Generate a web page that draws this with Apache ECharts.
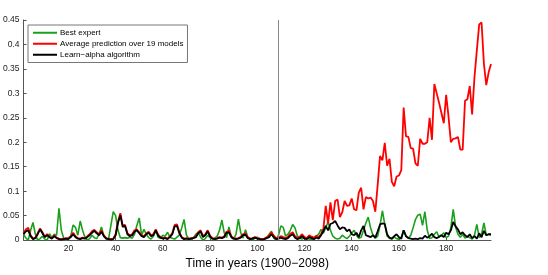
<!DOCTYPE html>
<html><head><meta charset="utf-8">
<script src="https://cdn.jsdelivr.net/npm/echarts@6/dist/echarts.min.js"></script>
<style>html,body{margin:0;padding:0;background:#fff}#c{width:548px;height:275px}</style>
</head><body><div id="c"></div>
<script>
const years = [];
for (let i = 1; i <= 199; i++) years.push(i);
const xTicks = [20, 40, 60, 80, 100, 120, 140, 160, 180];
const yMax = 0.45, yStep = 0.05;
const splitYear = 109;
const legendNames = ['Best expert', 'Average prediction over 19 models', 'Learn\u2212alpha algorithm'];

const bestExpert = [
0.012,0.004,0.0,0.02,0.036,0.012,0.0,0.003,0.008,0.002,
0.0,0.013,0.005,0.012,0.01,0.065,0.02,0.004,0.0,0.005,
0.008,0.031,0.026,0.01,0.039,0.02,0.006,0.0,0.003,0.01,
0.005,0.003,0.012,0.027,0.008,0.003,0.002,0.03,0.058,0.05,
0.02,0.005,0.004,0.005,0.004,0.006,0.004,0.012,0.03,0.045,
0.01,0.022,0.012,0.005,0.002,0.008,0.02,0.006,0.004,0.01,
0.008,0.016,0.006,0.004,0.002,0.006,0.01,0.025,0.042,0.01,
0.003,0.0,0.005,0.012,0.016,0.006,0.0,0.003,0.01,0.005,
0.002,0.004,0.008,0.02,0.041,0.015,0.005,0.027,0.006,0.002,
0.012,0.043,0.015,0.004,0.021,0.006,0.002,0.0,0.004,0.006,
0.003,0.0,0.002,0.005,0.012,0.018,0.004,0.0,0.01,0.029,
0.026,0.008,0.012,0.02,0.032,0.025,0.008,0.004,0.002,0.006,
0.004,0.002,0.001,0.004,0.008,0.012,0.022,0.014,0.026,0.037,
0.02,0.008,0.004,0.002,0.004,0.01,0.006,0.003,0.008,0.014,
0.02,0.01,0.004,0.006,0.02,0.035,0.047,0.025,0.01,0.004,
0.008,0.03,0.06,0.032,0.008,0.004,0.002,0.006,0.003,0.002,
0.006,0.02,0.008,0.004,0.01,0.025,0.042,0.051,0.053,0.03,
0.058,0.02,0.003,0.005,0.012,0.017,0.006,0.01,0.015,0.005,
0.008,0.025,0.063,0.027,0.012,0.006,0.012,0.004,0.008,0.005,
0.002,0.01,0.032,0.005,0.012,0.035,0.01,0.012,0.01
];

const averagePrediction = [
0.014,0.022,0.025,0.01,0.003,0.005,0.014,0.024,0.016,0.007,
0.012,0.007,0.004,0.01,0.005,0.003,0.002,0.003,0.004,0.003,
0.008,0.015,0.008,0.004,0.003,0.005,0.004,0.008,0.012,0.018,
0.021,0.016,0.012,0.02,0.01,0.004,0.003,0.002,0.003,0.012,
0.038,0.055,0.03,0.031,0.014,0.01,0.012,0.02,0.022,0.016,
0.01,0.008,0.014,0.017,0.01,0.012,0.022,0.011,0.006,0.004,
0.005,0.003,0.008,0.014,0.031,0.032,0.016,0.006,0.003,0.004,
0.003,0.004,0.005,0.008,0.016,0.02,0.008,0.012,0.02,0.009,
0.004,0.003,0.004,0.006,0.005,0.008,0.017,0.019,0.008,0.004,
0.003,0.004,0.007,0.012,0.014,0.006,0.003,0.004,0.006,0.004,
0.003,0.002,0.003,0.006,0.009,0.016,0.009,0.004,0.005,0.008,
0.006,0.004,0.007,0.013,0.016,0.008,0.004,0.007,0.012,0.006,
0.004,0.01,0.007,0.005,0.009,0.006,0.012,
0.023,0.07,0.034,0.077,0.041,0.08,0.083,0.047,0.057,0.08,
0.07,0.071,0.085,0.063,0.061,0.097,0.107,0.063,0.088,0.085,
0.087,0.08,0.058,0.113,0.172,0.163,0.199,0.152,0.166,0.119,
0.11,0.13,0.132,0.143,0.271,0.212,0.211,0.188,0.187,0.157,
0.152,0.207,0.197,0.197,0.2,0.25,0.205,0.319,0.3,0.281,
0.26,0.239,0.297,0.253,0.2,0.207,0.208,0.211,0.185,0.185,
0.285,0.288,0.315,0.257,0.333,0.388,0.441,0.445,0.36,0.317,
0.343,0.36
];

const learnAlpha = [
0.012,0.018,0.02,0.008,0.002,0.004,0.012,0.022,0.014,0.006,
0.01,0.006,0.003,0.008,0.004,0.002,0.001,0.002,0.003,0.002,
0.006,0.012,0.006,0.003,0.002,0.004,0.003,0.006,0.01,0.015,
0.019,0.014,0.01,0.017,0.008,0.003,0.002,0.001,0.002,0.01,
0.035,0.051,0.027,0.029,0.012,0.008,0.01,0.017,0.02,0.014,
0.008,0.006,0.012,0.015,0.008,0.01,0.02,0.009,0.005,0.003,
0.004,0.002,0.006,0.012,0.028,0.029,0.014,0.005,0.002,0.003,
0.002,0.003,0.004,0.006,0.014,0.018,0.006,0.01,0.018,0.007,
0.003,0.002,0.003,0.005,0.004,0.006,0.015,0.016,0.006,0.003,
0.002,0.003,0.005,0.01,0.011,0.004,0.002,0.003,0.005,0.003,
0.002,0.001,0.002,0.004,0.006,0.012,0.006,0.002,0.003,0.005,
0.003,0.002,0.004,0.009,0.012,0.005,0.002,0.004,0.008,0.003,
0.002,0.006,0.004,0.002,0.005,0.003,0.01,0.018,0.029,0.02,
0.033,0.035,0.039,0.03,0.022,0.026,0.025,0.018,0.022,0.012,
0.01,0.015,0.006,0.02,0.029,0.01,0.008,0.006,0.01,0.005,
0.018,0.032,0.034,0.033,0.012,0.005,0.003,0.008,0.012,0.006,
0.003,0.02,0.008,0.004,0.003,0.002,0.003,0.002,0.004,0.003,
0.009,0.005,0.008,0.013,0.006,0.004,0.007,0.01,0.006,0.015,
0.012,0.02,0.037,0.028,0.022,0.012,0.016,0.01,0.006,0.012,
0.004,0.008,0.003,0.014,0.006,0.019,0.01,0.012,0.012
];

function pairs(vals){ return vals.map((v,i)=>[years[i], v]); }

const chart = echarts.init(document.getElementById('c'), null, {renderer:'canvas'});
const fontFam = 'Liberation Sans, Arial, sans-serif';
chart.setOption({
  animation: false,
  backgroundColor: '#fff',
  grid: {left: 22, right: 57, top: 20, bottom: 30},
  legend: {
    data: legendNames.map(n => ({name: n, icon: 'rect'})),
    orient: 'vertical',
    left: 28, top: 25,
    itemWidth: 24, itemHeight: 2, itemGap: 1.5,
    padding: [3, 4, 3, 5],
    borderColor: '#777', borderWidth: 1,
    backgroundColor: '#fff',
    textStyle: {fontSize: 8, lineHeight: 9.5, color: '#000', fontFamily: fontFam, padding: [0,0,0,-2]}
  },
  xAxis: {
    type: 'value', min: 1, max: 199,
    name: 'Time in years (1900\u22122098)',
    nameLocation: 'middle', nameGap: 16,
    nameTextStyle: {fontSize: 12, color: '#000', fontFamily: fontFam},
    axisLine: {show: true, lineStyle: {color: '#555', width: 1}},
    axisTick: {show: true, inside: true, length: 3, customValues: xTicks, lineStyle: {color: '#555'}},
    axisLabel: {customValues: xTicks, fontSize: 8.5, color: '#222', margin: 4, fontFamily: fontFam},
    splitLine: {show: false}
  },
  yAxis: {
    type: 'value', min: 0, max: yMax, interval: yStep,
    axisLine: {show: true, lineStyle: {color: '#555', width: 1}},
    axisTick: {show: true, inside: true, length: 3, lineStyle: {color: '#555'}},
    axisLabel: {fontSize: 8.5, color: '#222', margin: 4, fontFamily: fontFam,
      formatter: v => String(Math.round(v*100)/100)},
    splitLine: {show: false}
  },
  series: [
    {name: legendNames[0], type: 'line', data: pairs(bestExpert), symbol: 'none', showSymbol: false,
     lineStyle: {color: '#1aa01a', width: 1.6}, itemStyle: {color: '#1aa01a'}, z: 2,
     markLine: {silent: true, symbol: 'none', label: {show: false},
       lineStyle: {color: '#888', width: 1, type: 'solid'}, data: [{xAxis: splitYear}]}},
    {name: legendNames[1], type: 'line', data: pairs(averagePrediction), symbol: 'none', showSymbol: false,
     lineStyle: {color: '#ff0000', width: 1.8}, itemStyle: {color: '#ff0000'}, z: 3},
    {name: legendNames[2], type: 'line', data: pairs(learnAlpha), symbol: 'none', showSymbol: false,
     lineStyle: {color: '#000000', width: 1.8}, itemStyle: {color: '#000000'}, z: 4}
  ]
});
</script></body></html>
